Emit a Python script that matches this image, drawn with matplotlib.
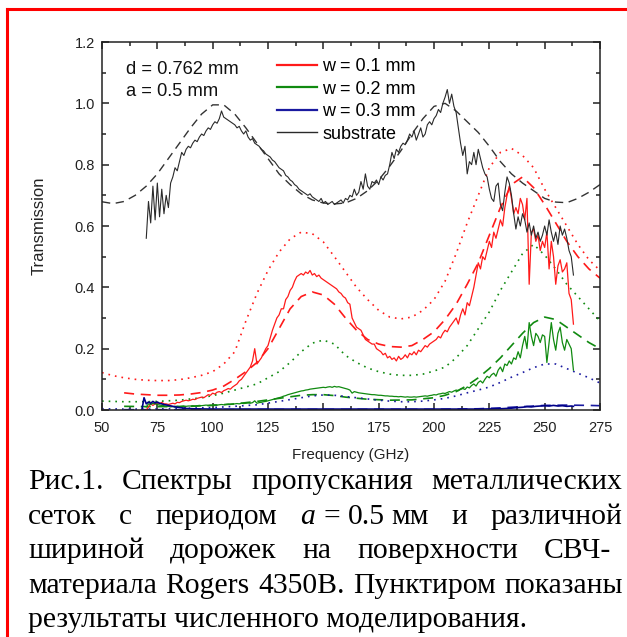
import numpy as np
import matplotlib
matplotlib.use("Agg")
import matplotlib.pyplot as plt
from matplotlib.lines import Line2D

# ---------------- data ----------------
# experimental, 1 GHz grid
f_exp = np.arange(70, 264)
substrate_exp = [
    0.56, 0.68, 0.61, 0.73, 0.62, 0.74, 0.63, 0.72, 0.64, 0.70, 0.66, 0.74,
    0.76, 0.79, 0.78, 0.81, 0.84, 0.83, 0.85, 0.86, 0.855, 0.87, 0.88, 0.875, 0.89, 0.90, 0.895, 0.91, 0.92, 0.915,
    0.93, 0.94, 0.935, 0.95, 0.975, 0.955, 0.95, 0.945, 0.94, 0.935, 0.93, 0.92, 0.925, 0.91, 0.90, 0.91, 0.89, 0.88, 0.885, 0.87,
    0.865, 0.86, 0.85, 0.845, 0.835, 0.83, 0.825, 0.815, 0.81, 0.80, 0.79, 0.785, 0.78, 0.765, 0.76, 0.75, 0.745, 0.735, 0.73, 0.72,
    0.715, 0.71, 0.705, 0.70, 0.705, 0.695, 0.69, 0.685, 0.68, 0.69, 0.675, 0.68, 0.67, 0.675, 0.68, 0.67, 0.675, 0.68, 0.685, 0.675,
    0.69, 0.685, 0.70, 0.695, 0.72, 0.70, 0.71, 0.745, 0.72, 0.77, 0.73, 0.72, 0.745, 0.74, 0.75, 0.735, 0.76, 0.75, 0.765, 0.77,
    0.80, 0.84, 0.82, 0.85, 0.84, 0.86, 0.87, 0.865, 0.88, 0.90, 0.89, 0.91, 0.88, 0.90, 0.92, 0.89, 0.90, 0.93, 0.94, 0.93,
    0.95, 0.96, 0.98, 0.97, 1.00, 1.02, 1.045, 1.00, 1.03, 0.99, 0.97, 0.92, 0.87, 0.83, 0.86, 0.77, 0.81, 0.80, 0.84, 0.80,
    0.85, 0.82, 0.79, 0.77, 0.76, 0.72, 0.69, 0.68, 0.73, 0.74, 0.67, 0.65, 0.71, 0.76, 0.74, 0.70, 0.64, 0.59, 0.63, 0.60,
    0.64, 0.62, 0.58, 0.61, 0.57, 0.60, 0.56, 0.58, 0.55, 0.57, 0.60, 0.57, 0.62, 0.58, 0.55, 0.58, 0.54, 0.60, 0.57, 0.59, 0.56, 0.52, 0.50, 0.44,
]
w01_exp = [
    0.0, 0.01, 0.02, 0.015, 0.02, 0.025, 0.02, 0.025, 0.02, 0.02, 0.018, 0.02, 0.022, 0.02, 0.025, 0.024, 0.028, 0.03, 0.032, 0.03,
    0.032, 0.035, 0.034, 0.038, 0.04, 0.042, 0.04, 0.045, 0.05, 0.048, 0.055, 0.052, 0.058, 0.06, 0.057, 0.063, 0.066, 0.07, 0.068, 0.075,
    0.08, 0.085, 0.095, 0.10, 0.11, 0.12, 0.13, 0.14, 0.16, 0.20, 0.15, 0.16, 0.17, 0.185, 0.20, 0.21, 0.235, 0.26, 0.28, 0.30,
    0.31, 0.33, 0.33, 0.36, 0.37, 0.39, 0.40, 0.42, 0.435, 0.44, 0.445, 0.44, 0.45, 0.445, 0.455, 0.44, 0.445, 0.435, 0.44, 0.43,
    0.425, 0.42, 0.415, 0.41, 0.405, 0.40, 0.395, 0.385, 0.38, 0.37, 0.365, 0.35, 0.345, 0.30, 0.285, 0.27, 0.265, 0.26, 0.245, 0.23,
    0.225, 0.22, 0.215, 0.215, 0.20, 0.195, 0.19, 0.18, 0.185, 0.17, 0.175, 0.165, 0.17, 0.16, 0.175, 0.165, 0.17, 0.18, 0.17, 0.185,
    0.18, 0.19, 0.18, 0.195, 0.19, 0.20, 0.21, 0.205, 0.215, 0.22, 0.225, 0.23, 0.24, 0.235, 0.25, 0.26, 0.255, 0.27, 0.28, 0.29,
    0.30, 0.28, 0.31, 0.33, 0.31, 0.35, 0.34, 0.37, 0.40, 0.44, 0.48, 0.46, 0.50, 0.49, 0.52, 0.55, 0.53, 0.58, 0.56, 0.59,
    0.62, 0.60, 0.66, 0.70, 0.73, 0.69, 0.64, 0.66, 0.64, 0.69, 0.67, 0.62, 0.69, 0.41, 0.58, 0.59, 0.55, 0.57, 0.52, 0.55,
    0.53, 0.58, 0.46, 0.55, 0.50, 0.41, 0.47, 0.49, 0.45, 0.46, 0.48, 0.38, 0.36, 0.28,
]
w02_exp = [
    0.01, 0.02, 0.018, 0.022, 0.02, 0.018, 0.016, 0.015, 0.014, 0.012, 0.012, 0.01, 0.011, 0.01, 0.012, 0.011, 0.012, 0.013, 0.012, 0.013,
    0.013, 0.014, 0.013, 0.014, 0.015, 0.014, 0.015, 0.016, 0.015, 0.016, 0.016, 0.017, 0.016, 0.017, 0.018, 0.017, 0.018, 0.019, 0.018, 0.019,
    0.02, 0.021, 0.02, 0.022, 0.021, 0.022, 0.023, 0.022, 0.024, 0.03, 0.022, 0.024, 0.025, 0.027, 0.028, 0.03, 0.032, 0.034, 0.036, 0.038,
    0.04, 0.042, 0.045, 0.047, 0.05, 0.052, 0.054, 0.056, 0.058, 0.06, 0.062, 0.063, 0.065, 0.066, 0.068, 0.069, 0.07, 0.071, 0.072, 0.073,
    0.074, 0.073, 0.075, 0.076, 0.074, 0.077, 0.075, 0.076, 0.074, 0.072, 0.07, 0.068, 0.065, 0.055, 0.06, 0.058, 0.056, 0.055, 0.054, 0.053,
    0.052, 0.051, 0.05, 0.05, 0.049, 0.048, 0.048, 0.047, 0.046, 0.046, 0.045, 0.045, 0.044, 0.044, 0.043, 0.044, 0.043, 0.042, 0.043, 0.042,
    0.042, 0.043, 0.042, 0.043, 0.044, 0.045, 0.046, 0.045, 0.047, 0.048, 0.05, 0.049, 0.052, 0.053, 0.055, 0.054, 0.057, 0.06, 0.058, 0.062,
    0.065, 0.063, 0.068, 0.07, 0.067, 0.075, 0.072, 0.08, 0.085, 0.078, 0.09, 0.095, 0.088, 0.10, 0.11, 0.105, 0.115, 0.12, 0.11, 0.13,
    0.14, 0.125, 0.15, 0.145, 0.16, 0.15, 0.17, 0.165, 0.19, 0.17, 0.21, 0.24, 0.20, 0.285, 0.24, 0.21, 0.25, 0.24, 0.22, 0.245,
    0.24, 0.155, 0.22, 0.285, 0.23, 0.195, 0.25, 0.27, 0.22, 0.195, 0.23, 0.215, 0.20, 0.13,
]
f_w03_exp = [68, 69, 70, 71, 72, 73, 74, 75, 76, 77, 78, 80, 82, 84, 86, 88, 90, 100, 120, 140, 160, 180, 200, 220,
             230, 235, 238, 240, 242, 244, 246, 248, 250, 252, 254, 256, 258, 260, 262, 263]
w03_exp = [0.0, 0.04, 0.02, 0.026, 0.022, 0.028, 0.023, 0.026, 0.022, 0.02, 0.018, 0.015, 0.012, 0.009, 0.007, 0.005,
           0.004, 0.003, 0.003, 0.003, 0.003, 0.003, 0.003, 0.003, 0.004, 0.006, 0.008, 0.009, 0.011, 0.01, 0.012,
           0.013, 0.014, 0.013, 0.015, 0.013, 0.014, 0.012, 0.013, 0.012]

# simulations, 5 GHz grid
f_sim = np.arange(50, 280, 5)
substrate_sim = [0.679, 0.673, 0.68, 0.70, 0.73, 0.77, 0.82, 0.87, 0.92, 0.965, 0.995, 0.995, 0.965, 0.92, 0.87,
                 0.82, 0.77, 0.735, 0.705, 0.685, 0.675, 0.672, 0.675, 0.69, 0.715, 0.75, 0.795, 0.845, 0.9, 0.95,
                 0.99, 1.0, 0.975, 0.94, 0.905, 0.86, 0.81, 0.77, 0.74, 0.715, 0.69, 0.678, 0.676, 0.69, 0.71, 0.735]
w01_dot = [0.122, 0.112, 0.105, 0.10, 0.097, 0.096, 0.096, 0.099, 0.105, 0.113, 0.125, 0.15, 0.19, 0.29, 0.38,
           0.455, 0.515, 0.558, 0.58, 0.575, 0.548, 0.50, 0.45, 0.40, 0.36, 0.325, 0.303, 0.297, 0.303, 0.325,
           0.36, 0.42, 0.51, 0.61, 0.70, 0.79, 0.84, 0.853, 0.83, 0.79, 0.72, 0.66, 0.60, 0.54, 0.49, 0.455]
f_w01_dash = np.arange(60, 280, 5)
w01_dash = [0.056, 0.052, 0.05, 0.048, 0.048, 0.049, 0.052, 0.057, 0.065, 0.078, 0.10, 0.125, 0.155, 0.20, 0.265,
            0.33, 0.37, 0.385, 0.375, 0.345, 0.30, 0.26, 0.23, 0.215, 0.207, 0.205, 0.21, 0.23, 0.255, 0.295,
            0.345, 0.41, 0.48, 0.57, 0.66, 0.735, 0.76, 0.725, 0.67, 0.61, 0.55, 0.50, 0.46, 0.43]
w02_dot = [0.029, 0.028, 0.027, 0.027, 0.027, 0.028, 0.03, 0.032, 0.036, 0.04, 0.047, 0.055, 0.065, 0.075, 0.085,
           0.105, 0.125, 0.155, 0.19, 0.218, 0.228, 0.215, 0.178, 0.155, 0.137, 0.125, 0.117, 0.113, 0.113, 0.117,
           0.127, 0.14, 0.17, 0.21, 0.265, 0.32, 0.39, 0.45, 0.51, 0.54, 0.505, 0.46, 0.41, 0.37, 0.33, 0.29]
f_w02_dash = [60, 70, 80, 90, 100, 110, 120, 130, 140, 145, 150, 155, 160, 170, 180, 190, 200, 205, 210, 215, 220,
              225, 230, 235, 240, 245, 250, 255, 260, 265, 270, 275]
w02_dash = [0.012, 0.011, 0.011, 0.012, 0.015, 0.02, 0.028, 0.038, 0.048, 0.05, 0.05, 0.047, 0.042, 0.035, 0.032,
            0.033, 0.04, 0.048, 0.06, 0.08, 0.105, 0.135, 0.17, 0.21, 0.25, 0.285, 0.303, 0.295, 0.27, 0.245, 0.22, 0.2]
f_w03_dot = [50, 60, 70, 80, 90, 100, 110, 120, 130, 140, 145, 150, 155, 160, 165, 170, 175, 180, 185, 190, 195,
             200, 205, 210, 215, 220, 225, 230, 235, 240, 245, 250, 255, 260, 265, 270, 275]
w03_dot = [0.004, 0.003, 0.003, 0.004, 0.006, 0.008, 0.012, 0.017, 0.028, 0.04, 0.046, 0.049, 0.048, 0.044, 0.04,
           0.036, 0.032, 0.029, 0.027, 0.027, 0.029, 0.033, 0.038, 0.046, 0.056, 0.065, 0.075, 0.09, 0.107, 0.122,
           0.138, 0.15, 0.15, 0.135, 0.12, 0.105, 0.088]
f_w03_dash = [60, 100, 150, 200, 220, 230, 240, 250, 260, 270, 275]
w03_dash = [0.001, 0.001, 0.002, 0.002, 0.004, 0.007, 0.011, 0.015, 0.016, 0.015, 0.014]

x_ticks = [50, 75, 100, 125, 150, 175, 200, 225, 250, 275]
y_ticks = [0.0, 0.2, 0.4, 0.6, 0.8, 1.0, 1.2]
legend_labels = ["w = 0.1 mm", "w = 0.2 mm", "w = 0.3 mm", "substrate"]
annot = ["d = 0.762 mm", "a = 0.5 mm"]

caption_lines = [
    ["Рис.1.", "Спектры", "пропускания", "металлических"],
    ["сеток", "с", "периодом", "A05", "и", "различной"],
    ["шириной", "дорожек", "на", "поверхности", "СВЧ-"],
    ["материала", "Rogers", "4350B.", "Пунктиром", "показаны"],
    ["результаты численного моделирования."],
]

# ---------------- figure ----------------
W, H = 627, 637
fig = plt.figure(figsize=(W / 100, H / 100), dpi=100)
fig.patch.set_facecolor("white")

SANS = ["Liberation Sans", "DejaVu Sans"]
SERIF = ["Liberation Serif", "DejaVu Serif"]

ax = fig.add_axes([102 / W, 1 - 410 / H, 498 / W, 368 / H])

RED = "#ff1a1a"
GREEN = "#108a10"
BLUE = "#1a1aa0"
NAVY = "#000088"
BLK = "#2a2a2a"

lw = 0.9
ax.plot(f_sim, substrate_sim, color="#333333", lw=1.0, ls=(0, (6, 4)))
ax.plot(f_sim, w01_dot, color=RED, lw=1.2, ls=(0, (1, 3)))
ax.plot(f_w01_dash, w01_dash, color=RED, lw=1.2, ls=(0, (6, 4)))
ax.plot(f_sim, w02_dot, color=GREEN, lw=1.2, ls=(0, (1, 3)))
ax.plot(f_w02_dash, w02_dash, color=GREEN, lw=1.2, ls=(0, (6, 4)))
ax.plot(f_w03_dot, w03_dot, color=BLUE, lw=1.2, ls=(0, (1, 3)))
ax.plot(f_w03_dash, w03_dash, color=BLUE, lw=1.2, ls=(0, (6, 4)))

ax.plot(f_exp, w01_exp, color=RED, lw=lw)
ax.plot(f_exp, w02_exp, color=GREEN, lw=lw)
ax.plot(f_w03_exp, w03_exp, color=NAVY, lw=1.2)
ax.plot(f_exp, substrate_exp, color=BLK, lw=0.8)

ax.set_xlim(50, 275)
ax.set_ylim(0, 1.2)
ax.set_xticks(x_ticks)
ax.set_yticks(y_ticks)
ax.set_xticklabels([str(v) for v in x_ticks])
ax.set_yticklabels([f"{v:.1f}" for v in y_ticks])
ax.set_xticks(np.arange(62.5, 275, 25), minor=True)
ax.set_yticks([0.1, 0.3, 0.5, 0.7, 0.9, 1.1], minor=True)
ax.tick_params(which="both", direction="in", top=True, right=True, colors="#222222",
               labelcolor="#222222", width=1.1)
ax.tick_params(which="major", length=5, labelsize=10.5)
ax.tick_params(axis="x", which="major", pad=8)
ax.tick_params(axis="y", which="major", pad=5)
ax.tick_params(which="minor", length=3)
for lab in ax.get_xticklabels() + ax.get_yticklabels():
    lab.set_family(SANS)
for s in ax.spines.values():
    s.set_linewidth(1.1)
    s.set_color("#222222")

ax.set_xlabel("Frequency (GHz)", family=SANS, fontsize=11, color="#222222", labelpad=9)
ax.set_ylabel("Transmission", family=SANS, fontsize=12, color="#222222", labelpad=20)

leg = fig.legend([Line2D([], [], color=RED, lw=1.6), Line2D([], [], color=GREEN, lw=1.6),
                  Line2D([], [], color=BLUE, lw=1.6), Line2D([], [], color=BLK, lw=1.0)],
                 legend_labels, loc="upper left", bbox_to_anchor=(277 / W, 1 - 58 / H),
                 frameon=False, borderpad=0, borderaxespad=0, handlelength=2.2,
                 handletextpad=0.3, labelspacing=0.31, prop={"family": SANS, "size": 13})

fig.text(126 / W, 1 - 69 / H, annot[0], family=SANS, fontsize=13.2, va="center", ha="left", color="#111111")
fig.text(126 / W, 1 - 91 / H, annot[1], family=SANS, fontsize=13.2, va="center", ha="left", color="#111111")

# red frame (top and left edges)
fig.add_artist(Line2D([7 / W, 1.0], [1 - 9 / H, 1 - 9 / H], transform=fig.transFigure, color="#ff0000", lw=2.2))
fig.add_artist(Line2D([7 / W, 7 / W], [0.0, 1 - 9 / H], transform=fig.transFigure, color="#ff0000", lw=2.2))

# ---------------- caption (justified) ----------------
CAP_SIZE = 21.3
renderer = fig.canvas.get_renderer()
LEFT = 28
rights = [622, 622, 611, 623, None]
baselines = [489, 524, 558, 593, 627]


def make_token(tok):
    """Return list of (text_artist, offset) pieces for a token and its width."""
    if tok == "A05":
        parts = [("a", "italic", 0), ("=", "normal", 0.28), ("0.5", "normal", 0.28), ("мм", "normal", 0.2)]
    else:
        parts = [(tok, "normal", 0)]
    arts = []
    x = 0.0
    em = CAP_SIZE * 100 / 72
    for txt, style, gap in parts:
        x += gap * em
        t = fig.text(0, 0, txt, family=SERIF, fontsize=CAP_SIZE, style=style, color="black",
                     ha="left", va="baseline")
        w = t.get_window_extent(renderer).width
        arts.append((t, x))
        x += w
    return arts, x


for i, words in enumerate(caption_lines):
    toks = [make_token(w) for w in words]
    y = 1 - baselines[i] / H
    if len(toks) > 1 and rights[i] is not None:
        total = sum(w for _, w in toks)
        gap = (rights[i] - LEFT - total) / (len(toks) - 1)
    else:
        gap = 0
    x = LEFT
    for arts, wdt in toks:
        for t, off in arts:
            t.set_position(((x + off) / W, y))
        x += wdt + gap

fig.savefig("out.png", dpi=100, facecolor="white")
